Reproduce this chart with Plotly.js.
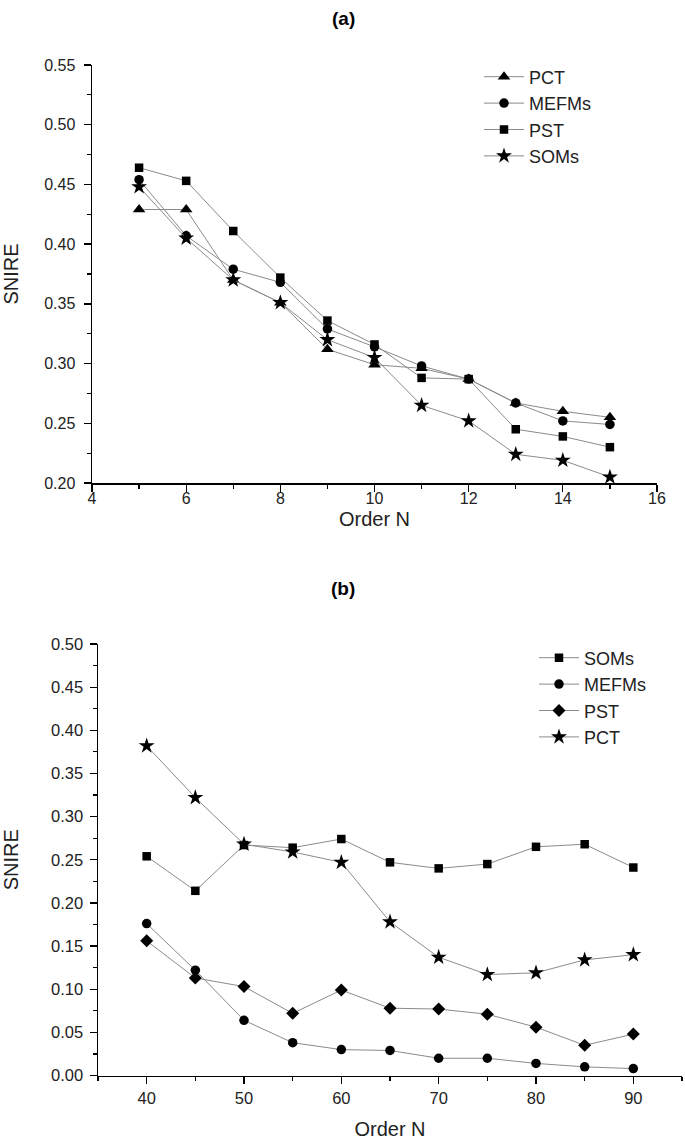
<!DOCTYPE html>
<html>
<head>
<meta charset="utf-8">
<script src="https://cdn.plot.ly/plotly-3.0.1.min.js"></script>
<style>html,body{margin:0;padding:0;background:#fff;}#chart{width:685px;height:1140px;}</style>
</head>
<body>
<div id="chart"></div>
<script>
// Panel (a)
var orderA = [5, 6, 7, 8, 9, 10, 11, 12, 13, 14, 15];
var pctA   = [0.429, 0.429, 0.370, 0.351, 0.312, 0.299, 0.296, 0.287, 0.267, 0.260, 0.255];
var mefmsA = [0.454, 0.407, 0.379, 0.368, 0.329, 0.314, 0.298, 0.287, 0.267, 0.252, 0.249];
var pstA   = [0.464, 0.453, 0.411, 0.372, 0.336, 0.316, 0.288, 0.287, 0.245, 0.239, 0.230];
var somsA  = [0.448, 0.405, 0.370, 0.351, 0.320, 0.305, 0.265, 0.252, 0.224, 0.219, 0.205];

// Panel (b)
var orderB = [40, 45, 50, 55, 60, 65, 70, 75, 80, 85, 90];
var somsB  = [0.254, 0.214, 0.267, 0.264, 0.274, 0.247, 0.240, 0.245, 0.265, 0.268, 0.241];
var mefmsB = [0.176, 0.122, 0.064, 0.038, 0.030, 0.029, 0.020, 0.020, 0.014, 0.010, 0.008];
var pstB   = [0.156, 0.113, 0.103, 0.072, 0.099, 0.078, 0.077, 0.071, 0.056, 0.035, 0.048];
var pctB   = [0.382, 0.322, 0.268, 0.259, 0.247, 0.178, 0.137, 0.117, 0.119, 0.134, 0.140];

var FONT = 'Liberation Sans, Arial, sans-serif';
var lineStyle = {color: '#8a8a8a', width: 1};

function tr(x, y, name, sym, size, xa, ya, leg) {
  return {
    x: x, y: y, name: name, type: 'scatter', mode: 'lines+markers',
    line: lineStyle,
    marker: {symbol: sym, size: size, color: '#000', line: {width: 0}},
    xaxis: xa, yaxis: ya, legend: leg
  };
}

var data = [
  tr(orderA, pctA, 'PCT', 'triangle-up', 11, 'x', 'y', 'legend'),
  tr(orderA, mefmsA, 'MEFMs', 'circle', 9.5, 'x', 'y', 'legend'),
  tr(orderA, pstA, 'PST', 'square', 8.5, 'x', 'y', 'legend'),
  tr(orderA, somsA, 'SOMs', 'star', 12, 'x', 'y', 'legend'),
  tr(orderB, somsB, 'SOMs', 'square', 8.5, 'x2', 'y2', 'legend2'),
  tr(orderB, mefmsB, 'MEFMs', 'circle', 9.5, 'x2', 'y2', 'legend2'),
  tr(orderB, pstB, 'PST', 'diamond', 10, 'x2', 'y2', 'legend2'),
  tr(orderB, pctB, 'PCT', 'star', 12, 'x2', 'y2', 'legend2')
];

function axisBase() {
  return {
    showline: true, linecolor: '#000', linewidth: 1.5, mirror: false,
    showgrid: false, zeroline: false,
    ticks: 'outside', ticklen: 7, tickwidth: 1.3, tickcolor: '#000',
    tickfont: {family: FONT, size: 16, color: '#222'},
    title: {font: {family: FONT, size: 20, color: '#222'}}
  };
}

var xa = axisBase();
Object.assign(xa, {domain: [92/685, 657/685], range: [4, 16], dtick: 2, tick0: 0,
  ticklabelstandoff: -7,
  minor: {ticks: 'outside', ticklen: 4, dtick: 1, tickcolor: '#000', tickwidth: 1.2},
  anchor: 'y'});
xa.title.text = 'Order N'; xa.title.standoff = 6;

var ya = axisBase();
Object.assign(ya, {domain: [1 - 483/1140, 1 - 65/1140], range: [0.20, 0.55], dtick: 0.05, tick0: 0,
  tickformat: '.2f', ticklabelstandoff: 5,
  minor: {ticks: 'outside', ticklen: 4, dtick: 0.025, tickcolor: '#000', tickwidth: 1.2},
  anchor: 'x'});
ya.title.text = 'SNIRE'; ya.title.standoff = 25;

var xb = axisBase();
Object.assign(xb, {domain: [98/685, 682/685], range: [35, 95], dtick: 10, tick0: 0,
  minor: {ticks: 'outside', ticklen: 4, dtick: 5, tickcolor: '#000', tickwidth: 1.2},
  anchor: 'y2'});
xb.tickfont.size = 16.5;
xb.title.text = 'Order N'; xb.title.standoff = 17;

var yb = axisBase();
Object.assign(yb, {domain: [1 - 1075.5/1140, 1 - 644/1140], range: [0, 0.50], dtick: 0.05, tick0: 0,
  tickformat: '.2f', ticklabelstandoff: 3,
  minor: {ticks: 'outside', ticklen: 4, dtick: 0.025, tickcolor: '#000', tickwidth: 1.2},
  anchor: 'x2'});
yb.tickfont.size = 16.5;
yb.title.text = 'SNIRE'; yb.title.standoff = 28;

var layout = {
  width: 685, height: 1140,
  margin: {l: 0, r: 0, t: 0, b: 0},
  paper_bgcolor: '#fff', plot_bgcolor: '#fff',
  font: {family: FONT, color: '#222'},
  showlegend: true,
  xaxis: xa, yaxis: ya, xaxis2: xb, yaxis2: yb,
  legend: {x: 479/685, y: 1 - 58.5/1140, xanchor: 'left', yanchor: 'top',
    bgcolor: 'rgba(0,0,0,0)', font: {family: FONT, size: 18, color: '#222'},
    itemwidth: 40, tracegroupgap: 0},
  legend2: {x: 534/685, y: 1 - 639.5/1140, xanchor: 'left', yanchor: 'top',
    bgcolor: 'rgba(0,0,0,0)', font: {family: FONT, size: 18, color: '#222'},
    itemwidth: 40, tracegroupgap: 0},
  annotations: [
    {text: '<b>(a)</b>', xref: 'paper', yref: 'paper', x: 343/685, y: 1 - 18/1140,
     xanchor: 'center', yanchor: 'middle', showarrow: false,
     font: {family: FONT, size: 19, color: '#000'}},
    {text: '<b>(b)</b>', xref: 'paper', yref: 'paper', x: 343/685, y: 1 - 588/1140,
     xanchor: 'center', yanchor: 'middle', showarrow: false,
     font: {family: FONT, size: 19, color: '#000'}}
  ]
};

Plotly.newPlot('chart', data, layout, {displayModeBar: false, staticPlot: true});
</script>
</body>
</html>
